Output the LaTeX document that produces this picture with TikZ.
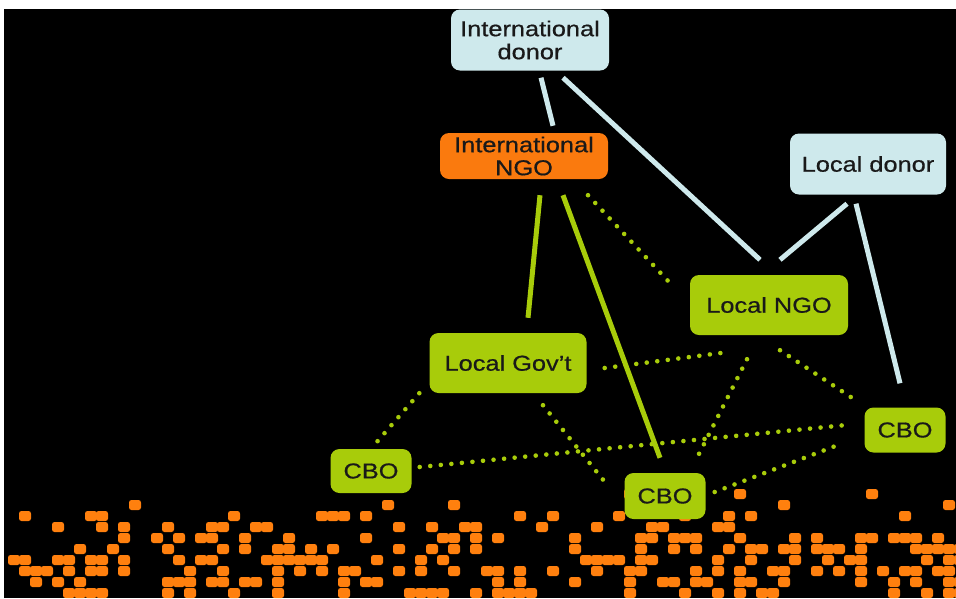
\documentclass[tikz,border=0pt]{standalone}
\usepackage{fontspec}
\setmainfont[FakeStretch=1.18, FakeBold=0.6]{Liberation Sans}
\definecolor{donorblue}{RGB}{206,233,236}
\definecolor{ngoorange}{RGB}{250,122,14}
\definecolor{limegreen}{RGB}{168,204,10}
\definecolor{dotorange}{RGB}{255,128,14}

\begin{document}
\begin{tikzpicture}[x=1pt, y=-1pt,
    box/.style={rounded corners=9pt, text=black!90, align=center, inner sep=0pt,
      font=\fontsize{21.5}{23}\selectfont},
    donor/.style={box, fill=donorblue},
    ngo/.style={box, fill=ngoorange},
    local/.style={box, fill=limegreen},
    blueline/.style={draw=donorblue, line width=5pt},
    greenline/.style={draw=limegreen, line width=5pt},
    dotline/.style={draw=limegreen, line width=4.6pt, line cap=round,
      dash pattern=on 0pt off 10.6pt},
    sq/.style={fill=dotorange, rounded corners=2.5pt}]
  \useasboundingbox (0,0) rectangle (956,598);
  \fill[white] (0,0) rectangle (956,598);
  \fill[black] (4,9) rectangle (956,598);

  % Quadradinhos laranja
  \pgfmathsetseed{4217}
  \foreach \r/\p in {0/0.06, 1/0.1, 2/0.18, 3/0.26, 4/0.32, 5/0.37, 6/0.4, 7/0.4, 8/0.37, 9/0.33} {
    \foreach \c in {0,...,86} {
      \pgfmathtruncatemacro\hit{rnd<\p ? 1 : 0}
      \ifnum\hit=1
        \fill[sq] (8+11*\c, 489+11*\r) rectangle ++(12,10);
      \fi
    }
  }

  % Doadores
  \node[donor, minimum width=158, minimum height=61] (idonor) at (530,40) {International\\donor};
  \node[donor, minimum width=156, minimum height=61] (ldonor) at (868,164) {Local donor};
  % ONGs e governo
  \node[ngo, minimum width=168, minimum height=46] (ingo) at (524,156) {International\\NGO};
  \node[local, minimum width=158, minimum height=60] (lngo) at (769,305) {Local NGO};
  \node[local, minimum width=157, minimum height=60] (lgov) at (508,363) {Local Gov't};
  % CBOs
  \node[local, minimum width=81, minimum height=44] (cbo1) at (371,471) {CBO};
  \node[local, minimum width=81, minimum height=46] (cbo2) at (665,496) {CBO};
  \node[local, minimum width=81, minimum height=45] (cbo3) at (905,430) {CBO};

  % Financiamento
  \draw[blueline] ([shift={(11,7)}]idonor.south) -- ([shift={(29,-7)}]ingo.north);
  \draw[blueline] ([shift={(33,7)}]idonor.south) -- ([shift={(-9,-15)}]lngo.north);
  \draw[blueline] ([shift={(-21,9)}]ldonor.south) -- ([shift={(11,-15)}]lngo.north);
  \draw[blueline] ([shift={(-12,9)}]ldonor.south) -- ([shift={(-5,-24)}]cbo3.north);
  \draw[greenline] ([shift={(16,16)}]ingo.south) -- ([shift={(20,-15)}]lgov.north);
  \draw[greenline] ([shift={(39,16)}]ingo.south) -- ([shift={(-5,-15)}]cbo2.north);

  % Ligacoes pontilhadas
  \draw[dotline] ([shift={(64,16)}]ingo.south) -- ([shift={(-18,-20)}]lngo.west);
  \draw[dotline] ([shift={(18,5)}]lgov.east) -- ([shift={(-42,17)}]lngo.south);
  \draw[dotline] ([shift={(-10,0)}]lgov.south west) -- ([shift={(6,-7)}]cbo1.north);
  \draw[dotline] ([shift={(35,12)}]lgov.south) -- ([shift={(-17,-11)}]cbo2.west);
  \draw[dotline] ([shift={(8,-4)}]cbo1.east) -- ([shift={(-18,-5)}]cbo3.west);
  \draw[dotline] ([shift={(-22,24)}]lngo.south) -- ([shift={(31,-13)}]cbo2.north);
  \draw[dotline] ([shift={(11,15)}]lngo.south) -- ([shift={(-9,-30)}]cbo3.west);
  \draw[dotline] ([shift={(9,-4)}]cbo2.east) -- ([shift={(-21,13)}]cbo3.west);
\end{tikzpicture}
\end{document}
